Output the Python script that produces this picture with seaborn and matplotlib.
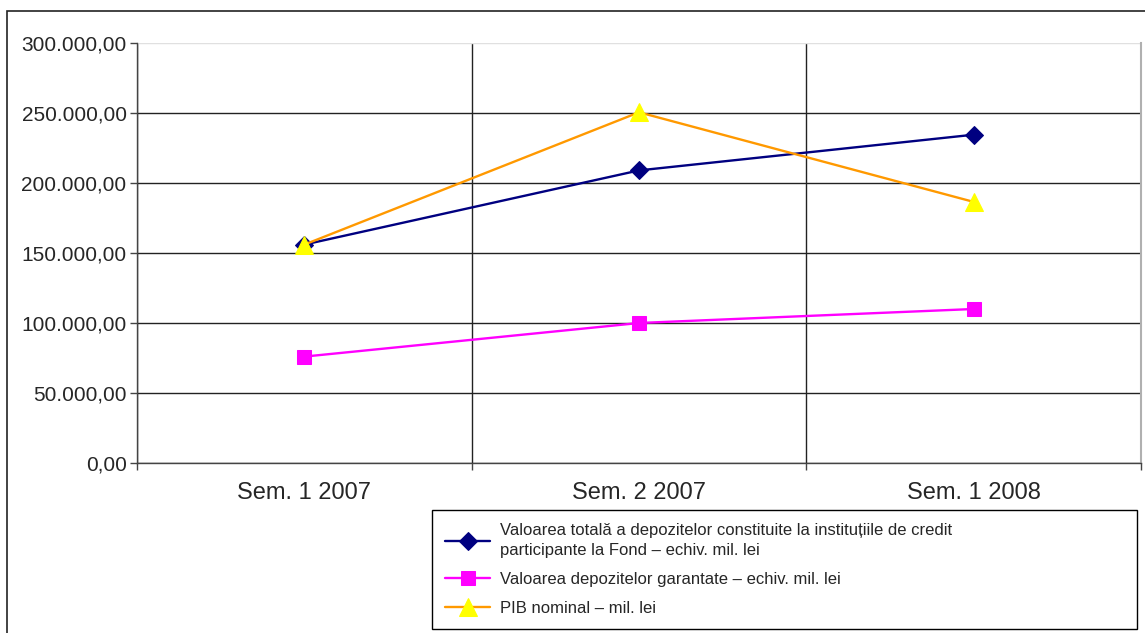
import numpy as np
import pandas as pd
import seaborn as sns
from matplotlib import pyplot as plt
from matplotlib.patches import Rectangle
from matplotlib.ticker import FuncFormatter, FixedLocator

semesters = ["Sem. 1 2007", "Sem. 2 2007", "Sem. 1 2008"]
total_deposits = [156000, 209000, 234500]
guaranteed_deposits = [76000, 100000, 110000]
gdp_nominal = [156000, 250500, 186500]

labels = [
    "Valoarea totală a depozitelor constituite la instituțiile de credit\nparticipante la Fond – echiv. mil. lei",
    "Valoarea depozitelor garantate – echiv. mil. lei",
    "PIB nominal – mil. lei",
]
colors = ["#000080", "#FF00FF", "#FF9900"]

sns.set_style("white")
plt.rcParams["font.family"] = ["Liberation Sans", "DejaVu Sans"]

fig = plt.figure(figsize=(11.45, 6.33), dpi=100)
ax = fig.add_axes([137 / 1145, 1 - 463 / 633, (1141 - 137) / 1145, (463 - 43) / 633])

sns.lineplot(x=semesters, y=total_deposits, ax=ax, color=colors[0], lw=1.7,
             marker="D", markersize=9, markerfacecolor="#000080", markeredgecolor="#000080",
             label=labels[0])
sns.lineplot(x=semesters, y=guaranteed_deposits, ax=ax, color=colors[1], lw=1.7,
             marker="s", markersize=10, markerfacecolor="#FF00FF", markeredgecolor="#FF00FF",
             label=labels[1])
sns.lineplot(x=semesters, y=gdp_nominal, ax=ax, color=colors[2], lw=1.7,
             marker="^", markersize=13, markerfacecolor="#FFFF00", markeredgecolor="#FFFF00",
             label=labels[2])

ax.set_xlim(-0.5, 2.5)
ax.set_ylim(0, 300000)
ax.set_yticks(np.arange(0, 300001, 50000))
ax.yaxis.set_major_formatter(FuncFormatter(
    lambda v, _: f"{v:,.2f}".replace(",", " ").replace(".", ",").replace(" ", ".")))
ax.xaxis.set_minor_locator(FixedLocator([-0.5, 0.5, 1.5, 2.5]))

ax.grid(axis="y", which="major", color="#222222", lw=1)
ax.grid(axis="x", which="minor", color="#222222", lw=1)
ax.grid(axis="x", which="major", visible=False)
ax.get_ygridlines()[-1].set_color("#e0e0e0")
ax.set_axisbelow(True)

ax.tick_params(axis="y", which="major", left=True, length=5, width=1, color="#444444",
               labelsize=15, pad=2.5)
ax.tick_params(axis="x", which="major", bottom=False, labelsize=17, pad=10)
ax.tick_params(axis="x", which="minor", bottom=True, length=5, width=1, color="#444444")
ax.set_xlabel("")
ax.set_ylabel("")

for side in ["left", "bottom"]:
    ax.spines[side].set_color("#444444")
    ax.spines[side].set_linewidth(1)
ax.spines["top"].set_visible(False)
ax.spines["right"].set_color("#b0b0b0")
ax.spines["right"].set_linewidth(1.5)

leg_top = 1 - 510 / 633
leg = ax.legend(loc="upper left", bbox_to_anchor=(432 / 1145, leg_top - 0.3, (1137 - 432) / 1145, 0.3),
                bbox_transform=fig.transFigure, mode="expand", frameon=True, fancybox=False,
                edgecolor="#000000", framealpha=1, fontsize=12, handlelength=2.7,
                handletextpad=0.55, labelspacing=0.85, borderpad=0.8, borderaxespad=0)
leg.get_frame().set_linewidth(1)
leg.get_texts()[0].set_linespacing(1.35)

fig.add_artist(Rectangle((7 / 1145, -0.1), 1.2, 1.1 - 11 / 633, transform=fig.transFigure,
                         fill=False, edgecolor="#222222", lw=1.2))

plt.savefig("out.png", dpi=100)
plt.close(fig)
